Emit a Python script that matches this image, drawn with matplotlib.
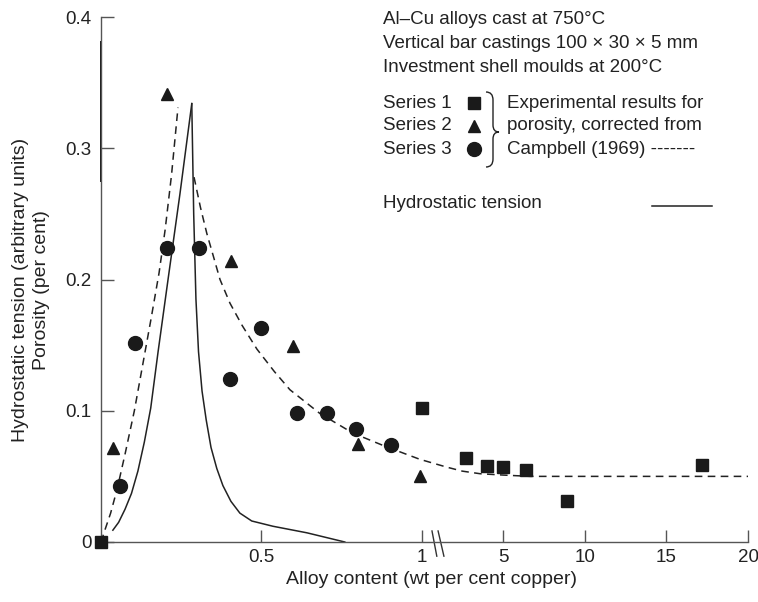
import numpy as np
import matplotlib
matplotlib.use('Agg')
from matplotlib import pyplot as plt
from matplotlib.path import Path
from matplotlib.patches import PathPatch

plt.rcParams['font.family'] = ['Liberation Sans', 'DejaVu Sans']

# porosity results (per cent) vs alloy content (wt % Cu)
s1_x = [0.0, 1.0, 2.7, 4.0, 5.0, 6.4, 8.9, 17.2]
s1_y = [0.0, 0.102, 0.064, 0.058, 0.057, 0.055, 0.031, 0.059]

s2_x = [0.037, 0.206, 0.405, 0.598, 0.80, 0.994]
s2_y = [0.072, 0.341, 0.214, 0.149, 0.075, 0.050]

s3_x = [0.059, 0.106, 0.206, 0.305, 0.402, 0.50, 0.61, 0.704, 0.794, 0.905]
s3_y = [0.043, 0.152, 0.224, 0.224, 0.124, 0.163, 0.098, 0.098, 0.086, 0.074]

# Campbell (1969) porosity curve, two branches
camp_left_x = [0.0, 0.012, 0.030, 0.050, 0.075, 0.104, 0.130, 0.156, 0.181, 0.200, 0.220, 0.240]
camp_left_y = [0.0, 0.009, 0.022, 0.040, 0.067, 0.100, 0.135, 0.170, 0.205, 0.238, 0.280, 0.331]
camp_right_x = [0.290, 0.310, 0.330, 0.350, 0.371, 0.402, 0.440, 0.486, 0.540, 0.589, 0.682,
                0.785, 0.885, 0.994, 1.56, 2.5, 3.6, 5.0, 6.66, 20.0]
camp_right_y = [0.278, 0.255, 0.235, 0.218, 0.200, 0.182, 0.165, 0.147, 0.130, 0.116, 0.098,
                0.083, 0.073, 0.063, 0.057, 0.054, 0.052, 0.051, 0.050, 0.050]

# hydrostatic tension (arbitrary units)
ht_left_x = [0.037, 0.055, 0.075, 0.095, 0.115, 0.135, 0.155, 0.178, 0.209, 0.246, 0.283]
ht_left_y = [0.009, 0.015, 0.025, 0.037, 0.054, 0.076, 0.102, 0.145, 0.200, 0.265, 0.334]
ht_right_x = [0.283, 0.289, 0.296, 0.304, 0.315, 0.328, 0.343, 0.361, 0.380, 0.405,
              0.433, 0.47, 0.536, 0.642, 0.760]
ht_right_y = [0.334, 0.250, 0.185, 0.145, 0.115, 0.093, 0.072, 0.056, 0.043, 0.031,
              0.022, 0.016, 0.012, 0.007, 0.0]
ht_axis_x = [0.0, 0.0]
ht_axis_y = [0.275, 0.381]

x_ticks = [0.5, 1, 5, 10, 15, 20]
x_ticklabels = ['0.5', '1', '5', '10', '15', '20']
y_ticks = [0, 0.1, 0.2, 0.3, 0.4]
y_ticklabels = ['0', '0.1', '0.2', '0.3', '0.4']

# broken x axis: 0-1 linear, then compressed 1-20
GAP = 0.05
K = 0.0509


def fwd(v):
    v = np.asarray(v, dtype=float)
    return np.where(v <= 1, v, 1 + GAP + (v - 1) * K)


def inv(u):
    u = np.asarray(u, dtype=float)
    return np.where(u <= 1, u, np.where(u < 1 + GAP, 1.0, 1 + (u - 1 - GAP) / K))


W, H = 758, 602
fig = plt.figure(figsize=(W / 100, H / 100), dpi=100)
ax = fig.add_axes([101 / W, (H - 542) / H, 647 / W, 525 / H])
ax.set_xscale('function', functions=(fwd, inv))
ax.set_xlim(0, 20)
ax.set_ylim(0, 0.4)

ink = '#1a1a1a'
ax.plot(ht_left_x, ht_left_y, color='#222222', lw=1.1)
ax.plot(ht_right_x, ht_right_y, color='#222222', lw=1.1)
ax.plot(ht_axis_x, ht_axis_y, color='#111111', lw=1.4, clip_on=False)
ax.plot(camp_left_x, camp_left_y, color='#222222', lw=1.1, dashes=(5, 3.5))
ax.plot(camp_right_x, camp_right_y, color='#222222', lw=1.1, dashes=(5, 3.5))

ax.plot(s1_x, s1_y, 's', color=ink, ms=8.5, clip_on=False, zorder=5)
ax.plot(s2_x, s2_y, '^', color=ink, ms=8.5, clip_on=False, zorder=5)
ax.plot(s3_x, s3_y, 'o', color=ink, ms=10, clip_on=False, zorder=5)

for s in ['top', 'right']:
    ax.spines[s].set_visible(False)
for s in ['left', 'bottom']:
    ax.spines[s].set_color('#555555')
    ax.spines[s].set_linewidth(1.0)

ax.set_xticks(x_ticks)
ax.set_xticklabels(x_ticklabels)
ax.set_yticks(y_ticks)
ax.set_yticklabels(y_ticklabels)
ax.tick_params(axis='both', direction='in', length=9, width=1, color='#555555',
               labelsize=13.5, labelcolor='#222222')
ax.tick_params(axis='x', pad=5)
ax.tick_params(axis='y', pad=7)
ax.minorticks_off()

# break marks on the x axis
for x0, x1 in [(0.5116, 0.519), (0.521, 0.530)]:
    ax.plot([x0, x1], [0.021, -0.027], transform=ax.transAxes, color='#333333',
            lw=1.0, clip_on=False)

# axis titles
fig.text(431 / W, 1 - 580 / H, 'Alloy content (wt per cent copper)', ha='center',
         va='center', fontsize=14, color='#222222')
fig.text(31 / W, 1 - 290 / H, 'Hydrostatic tension (arbitrary units)\nPorosity (per cent)',
         rotation=90, ha='center', va='center', multialignment='center',
         fontsize=14, color='#222222', linespacing=1.25)

# annotation block
txt = dict(fontsize=13.5, color='#222222', va='center', ha='left')
fig.text(383 / W, 1 - 20 / H, 'Al\u2013Cu alloys cast at 750\u00b0C', **txt)
fig.text(383 / W, 1 - 44 / H, 'Vertical bar castings 100 \u00d7 30 \u00d7 5 mm', **txt)
fig.text(383 / W, 1 - 68 / H, 'Investment shell moulds at 200\u00b0C', **txt)

series_rows = [103, 126, 149]
for i, (yy, mk, ms) in enumerate(zip(series_rows, ['s', '^', 'o'], [8.5, 8.5, 10])):
    fig.text(383 / W, 1 - yy / H, 'Series %d' % (i + 1), **txt)
    ax.plot([474 / W], [1 - yy / H], mk, color=ink, ms=ms, transform=fig.transFigure,
            clip_on=False)

fig.text(507 / W, 1 - 103 / H, 'Experimental results for', **txt)
fig.text(507 / W, 1 - 126 / H, 'porosity, corrected from', **txt)
fig.text(507 / W, 1 - 149 / H, 'Campbell (1969) -------', **txt)

fig.text(383 / W, 1 - 204 / H, 'Hydrostatic tension', **txt)
ax.plot([652 / W, 712 / W], [1 - 206 / H, 1 - 206 / H], color='#222222', lw=1.1,
        transform=fig.transFigure, clip_on=False)

# curly brace
bp = [(486, 92), (493, 92), (493, 100), (493, 125), (493, 132), (499, 132),
      (493, 132), (493, 139), (493, 159), (493, 167), (486, 167)]
codes = [Path.MOVETO, Path.CURVE3, Path.CURVE3, Path.LINETO, Path.CURVE3, Path.CURVE3,
         Path.CURVE3, Path.CURVE3, Path.LINETO, Path.CURVE3, Path.CURVE3]
brace = Path([(x / W, 1 - y / H) for x, y in bp], codes)
fig.add_artist(PathPatch(brace, transform=fig.transFigure, fill=False,
                         edgecolor='#222222', lw=1.0))

fig.savefig('out.png', dpi=100)
